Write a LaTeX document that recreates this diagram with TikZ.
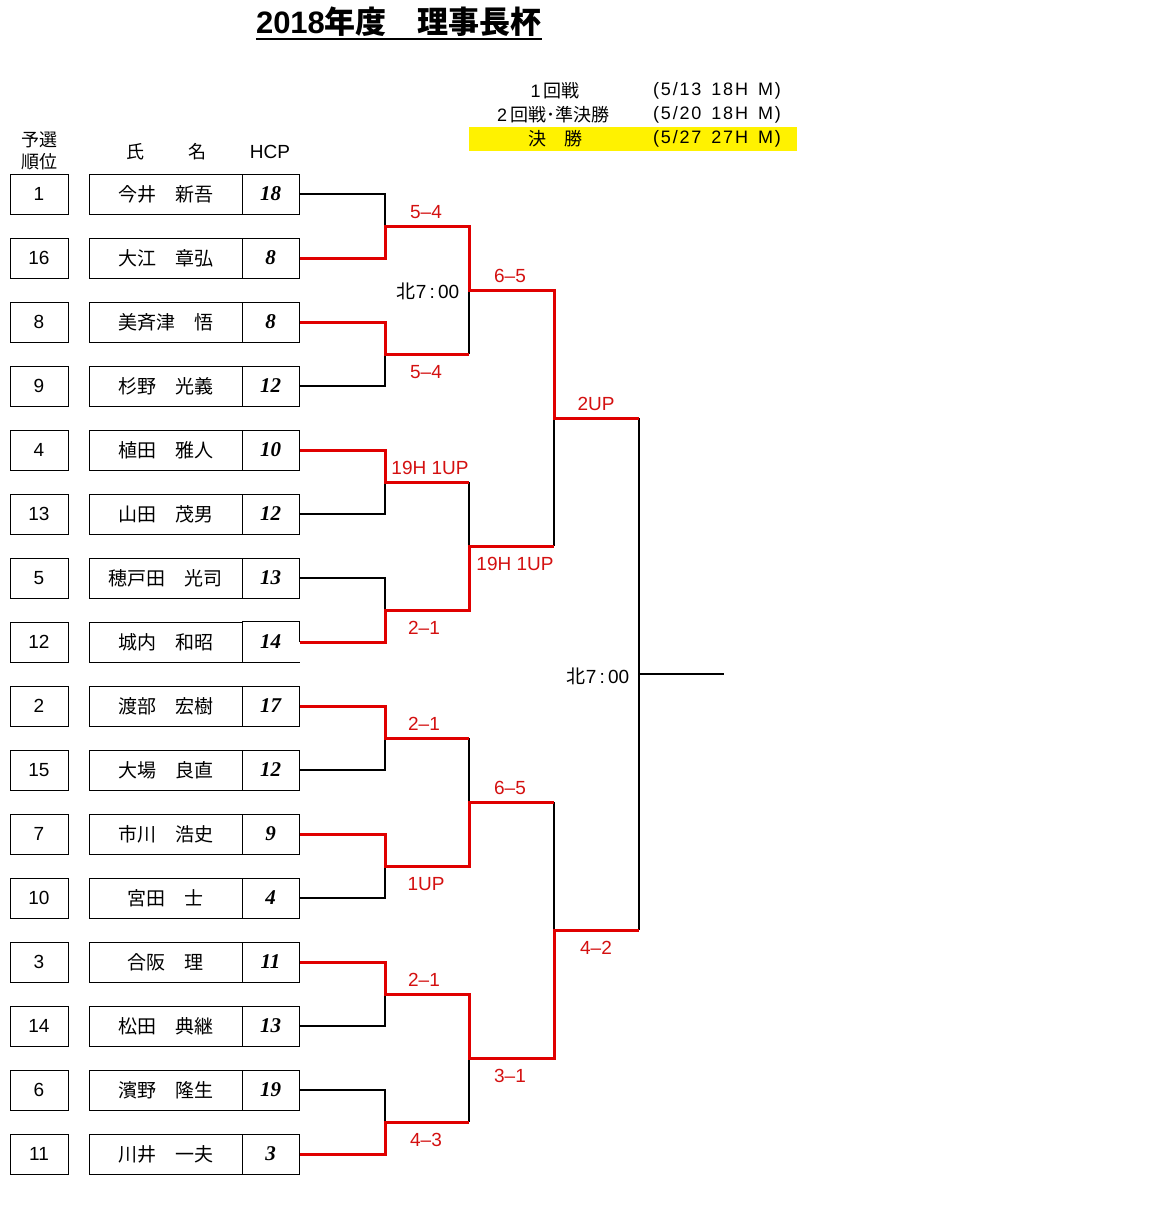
\documentclass[tikz,border=0pt]{standalone}
\usepackage{fontspec}
\setmainfont{Liberation Sans}
\newfontfamily\cjk{Noto Sans CJK JP}
\newfontfamily\hcpf{Liberation Serif}
\newfontfamily\widesans[LetterSpace=10]{Liberation Sans}
\usetikzlibrary{calc}
\definecolor{wred}{RGB}{224,0,0}
\definecolor{lred}{RGB}{212,16,16}
\begin{document}
\begin{tikzpicture}[x=1pt,y=-1pt,
 box/.style={draw,line width=1pt,inner sep=0pt,minimum height=40pt},
 rankbox/.style={box,minimum width=58pt,font=\fontsize{19}{19}\selectfont},
 namebox/.style={box,minimum width=153pt,font=\cjk\fontsize{19}{19}\selectfont},
 hcpbox/.style={box,minimum width=57pt,font=\hcpf\bfseries\itshape\fontsize{21}{21}\selectfont},
 lose/.style={line width=1.1pt,black},
 win/.style={line width=3pt,wred},
 lab/.style={text=lred,font=\fontsize{19}{19}\selectfont,inner sep=0pt},
 plain/.style={font=\fontsize{19}{19}\selectfont,inner sep=0pt},
 jp/.style={font=\cjk\fontsize{18}{18}\selectfont,inner sep=0pt},
 datetxt/.style={inner sep=0pt,anchor=west,font=\widesans\fontsize{18}{18}\selectfont},
]
\useasboundingbox[fill=white] (0,0) rectangle (1152,1223);

% title
\node[inner sep=0pt,font=\bfseries\fontsize{31}{31}\selectfont] (title) at (399,22) {2018{\cjk\bfseries 年度　理事長杯}};
\draw[line width=2pt] ($(title.base west)+(0,5)$) -- ($(title.base east)+(0,5)$);

% schedule
\fill[yellow] (469,127) rectangle (797,151);
\node[jp] (s1) at (555,91) {{\fontspec{Liberation Sans}1}\,回戦};
\node[jp] (s2) at (553,115) {{\fontspec{Liberation Sans}2}\,回戦･準決勝};
\node[jp] (s3) at (555,139) {決　勝};
\node[datetxt] (d1) at (653,91) {(5/13\hspace{10pt}18H\hspace{10pt}M)};
\node[datetxt] (d2) at (653,115) {(5/20\hspace{10pt}18H\hspace{10pt}M)};
\node[datetxt] (d3) at (653,139) {(5/27\hspace{10pt}27H\hspace{10pt}M)};

% header
\node[jp] (hA) at (39,140) {予選};
\node[jp] (hB) at (39,162) {順位};
\node[jp] (hC) at (135,152) {氏};
\node[jp] (hD) at (197,152) {名};
\node[plain] (hE) at (270,152) {HCP};

% players
\foreach \k/\r/\n/\h in {0/1/今井　新吾/18, 1/16/大江　章弘/8, 2/8/美斉津　悟/8, 3/9/杉野　光義/12,
  4/4/植田　雅人/10, 5/13/山田　茂男/12, 6/5/穂戸田　光司/13,
  8/2/渡部　宏樹/17, 9/15/大場　良直/12, 10/7/市川　浩史/9, 11/10/宮田　士/4,
  12/3/合阪　理/11, 13/14/松田　典継/13, 14/6/濱野　隆生/19, 15/11/川井　一夫/3}{
  \node[rankbox] (r\k) at (39,{194+64*\k}) {\r};
  \node[namebox] (n\k) at (165.5,{194+64*\k}) {\n};
  \node[hcpbox] (h\k) at (270.5,{194+64*\k}) {\h};
}
\node[rankbox] (r7) at (39,642) {12};
\node[namebox] (n7) at (165.5,642) {城内　和昭};
\node[hcpbox,draw=none] (h7) at (270.5,642) {14};
\draw[line width=1pt] (h7.east) -- (h7.north east) -- (h7.north west);
\draw[line width=1pt] (h7.south west) -- (h7.south east);

% junctions
\foreach \i in {1,...,8}{
  \coordinate (J1-\i) at (385,{226+128*(\i-1)});
  \coordinate (O1-\i) at (469,{226+128*(\i-1)});
}
\foreach \i in {1,...,4}{
  \coordinate (J2-\i) at (469,{290+256*(\i-1)});
  \coordinate (O2-\i) at (554,{290+256*(\i-1)});
}
\coordinate (J3-1) at (554,418); \coordinate (O3-1) at (639,418);
\coordinate (J3-2) at (554,930); \coordinate (O3-2) at (639,930);
\coordinate (J4) at (639,674); \coordinate (E) at (724,674);

% losing (black) segments
\foreach \p/\i in {0/1,3/2,5/3,6/4,9/5,11/6,13/7,14/8}{
  \draw[lose] (h\p.east) -| (J1-\i);
}
\draw[lose] (O1-2) -- (J2-1);
\draw[lose] (O1-3) -- (J2-2);
\draw[lose] (O1-5) -- (J2-3);
\draw[lose] (O1-8) -- (J2-4);
\draw[lose] (O2-2) -- (J3-1);
\draw[lose] (O2-3) -- (J3-2);
\draw[lose] (O3-1) -- (J4) -- (O3-2);
\draw[lose] (J4) -- (E);

% winning (red) paths
\draw[win] (h1.east) -| (J1-1) -- (O1-1) -- (J2-1) -- (O2-1) -- (J3-1) -- (O3-1);
\draw[win] (h2.east) -| (J1-2) -- (O1-2);
\draw[win] (h4.east) -| (J1-3) -- (O1-3);
\draw[win] (h7.east) -| (J1-4) -- (O1-4) -- (J2-2) -- (O2-2);
\draw[win] (h8.east) -| (J1-5) -- (O1-5);
\draw[win] (h10.east) -| (J1-6) -- (O1-6) -- (J2-3) -- (O2-3);
\draw[win] (h12.east) -| (J1-7) -- (O1-7) -- (J2-4) -- (O2-4) -- (J3-2) -- (O3-2);
\draw[win] (h15.east) -| (J1-8) -- (O1-8);

% scores
\node[lab] (l1) at (426,212) {5–4};
\node[lab] (l2) at (426,372) {5–4};
\node[lab] (l3) at (510,276) {6–5};
\node[lab] (l4) at (596,404) {2UP};
\node[lab] (l5) at (430,468) {19H 1UP};
\node[lab] (l6) at (515,564) {19H 1UP};
\node[lab] (l7) at (424,628) {2–1};
\node[lab] (l8) at (424,724) {2–1};
\node[lab] (l9) at (510,788) {6–5};
\node[lab] (l10) at (426,884) {1UP};
\node[lab] (l11) at (424,980) {2–1};
\node[lab] (l12) at (510,1076) {3–1};
\node[lab] (l13) at (426,1140) {4–3};
\node[lab] (l14) at (596,948) {4–2};

% times
\node[plain] (t1) at (428,291) {{\cjk 北}7\,:\,00};
\node[plain] (t2) at (598,676) {{\cjk 北}7\,:\,00};
\end{tikzpicture}
\end{document}
